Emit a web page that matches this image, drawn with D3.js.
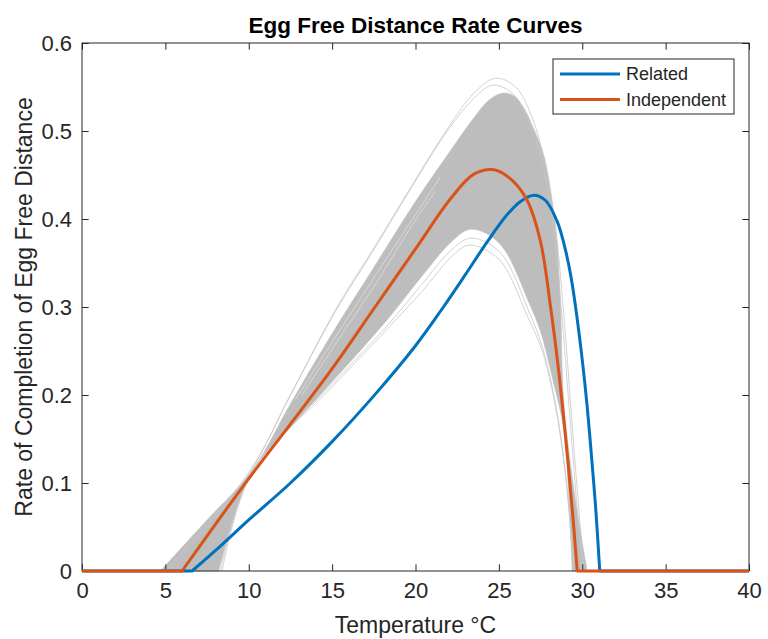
<!DOCTYPE html>
<html>
<head>
<meta charset="utf-8">
<script src="https://cdn.jsdelivr.net/npm/d3@7"></script>
<style>
  body { margin: 0; background: #fff; }
  text { font-family: "Liberation Sans", Arial, Helvetica, sans-serif; }
</style>
</head>
<body>
<script>
'use strict';

// ---- data ----
const xTicks = [0, 5, 10, 15, 20, 25, 30, 35, 40];
const yTicks = [0, 0.1, 0.2, 0.3, 0.4, 0.5, 0.6];

// Related (blue)
const relatedTemp = [0, 6.6, 8.4, 10, 12.5, 15, 17.5, 20, 21.6, 23, 24.3, 25.5, 26.3, 27.1, 27.8, 28.5, 28.9, 29.3, 29.6, 30.0, 30.3, 30.6, 30.8, 31.05, 40];
const relatedRate = [0, 0, 0.03, 0.058, 0.1, 0.147, 0.199, 0.256, 0.298, 0.337, 0.374, 0.405, 0.42, 0.427, 0.421, 0.397, 0.372, 0.337, 0.3, 0.24, 0.186, 0.12, 0.073, 0, 0];

// Independent (orange)
const indepTemp = [0, 6.0, 8, 10, 12.5, 15, 17.5, 20, 22.1, 23.5, 24.7, 25.8, 26.7, 27.5, 28.1, 28.6, 29.0, 29.4, 29.7, 40];
const indepRate = [0, 0, 0.053, 0.105, 0.167, 0.23, 0.298, 0.366, 0.423, 0.451, 0.456, 0.444, 0.421, 0.374, 0.3, 0.225, 0.152, 0.07, 0, 0];

// grey band of sampled curves: upper and lower edge of the dense part
const bandTopTemp = [4.7, 7.5, 10.2, 12.5, 15, 17.5, 20, 22, 23.5, 24.4, 25.2, 25.9, 26.5, 27.1, 27.7, 28.2, 28.5, 28.7, 28.9, 29.6, 30.3];
const bandTopRate = [0, 0.058, 0.114, 0.19, 0.27, 0.345, 0.42, 0.475, 0.515, 0.535, 0.543, 0.54, 0.526, 0.502, 0.472, 0.42, 0.37, 0.3, 0.19, 0.08, 0];
const bandLowTemp = [8.2, 10.2, 12.5, 15, 17, 18.5, 20.3, 22.1, 23.2, 24.2, 25.3, 26.8, 27.5, 28.2, 28.9, 29.2, 29.4];
const bandLowRate = [0, 0.114, 0.163, 0.215, 0.257, 0.29, 0.333, 0.373, 0.388, 0.384, 0.366, 0.305, 0.272, 0.22, 0.16, 0.08, 0];

// a few single curves that stand out of the band
const outlierTemps = [
  [5.2, 10, 12.5, 15.3, 17.6, 20.1, 22, 23.5, 24.8, 26, 27, 27.8, 28.4, 28.9, 29.5, 30.1],
  [5.0, 10, 12.5, 15.2, 17.4, 19.8, 21.8, 23.4, 24.6, 25.8, 26.9, 27.7, 28.3, 28.8, 29.4, 30.0],
  [8.3, 10.2, 15, 18.5, 20.3, 22.1, 23.2, 24.2, 25.3, 26.8, 27.6, 28.4, 29.0, 29.5],
  [8.4, 10.2, 15, 18.5, 20.4, 22.1, 23.1, 24.1, 25.2, 26.7, 27.6, 28.4, 29.0, 29.5]
];
const outlierRates = [
  [0, 0.11, 0.2, 0.3, 0.37, 0.448, 0.505, 0.543, 0.56, 0.55, 0.515, 0.46, 0.39, 0.29, 0.14, 0],
  [0, 0.112, 0.2, 0.295, 0.362, 0.437, 0.497, 0.535, 0.552, 0.543, 0.508, 0.455, 0.385, 0.285, 0.14, 0],
  [0, 0.113, 0.212, 0.283, 0.324, 0.364, 0.378, 0.374, 0.357, 0.295, 0.255, 0.19, 0.11, 0],
  [0, 0.112, 0.209, 0.279, 0.318, 0.356, 0.37, 0.366, 0.35, 0.29, 0.25, 0.186, 0.108, 0]
];

// thin white gaps just inside the upper edge of the band
const gapTemps = [
  [12.8, 15, 17.5, 20, 21.5],
  [13.2, 15.2, 17.6, 19.8, 21.2]
];
const gapRates = [
  [0.195, 0.26, 0.333, 0.405, 0.448],
  [0.2, 0.258, 0.326, 0.393, 0.432]
];

const seriesNames = ['Related', 'Independent'];
const seriesColors = ['#0072BD', '#D95319'];

(function() {

  const W = 768, H = 639;
  const margin = {top: 43, right: 19, bottom: 68, left: 82};
  const width = W - margin.left - margin.right,
        height = H - margin.top - margin.bottom;
  const axisColor = '#262626';
  const tickLen = 6.7;

  const svg = d3.select('body').append('svg')
    .attr('width', W)
    .attr('height', H);

  const x = d3.scaleLinear().domain([0, 40]).range([margin.left, margin.left + width]);
  const y = d3.scaleLinear().domain([0, 0.6]).range([margin.top + height, margin.top]);

  const zip = (xs, ys) => xs.map((v, i) => [v, ys[i]]);

  // smooth curve through the read points
  const line = d3.line()
    .x(d => x(d[0]))
    .y(d => y(d[1]))
    .curve(d3.curveCatmullRom.alpha(0.5));

  // flat zero parts drawn straight, the hump drawn smooth
  function seriesPath(pts) {
    const first = pts.findIndex(p => p[1] > 0) - 1;
    let last = first + 1;
    while (last < pts.length && pts[last][1] > 0) last++;
    const mid = pts.slice(first, last + 1);
    return 'M' + x(pts[0][0]) + ',' + y(pts[0][1]) +
      line(mid).replace(/^M/, 'L') +
      'L' + x(pts[pts.length - 1][0]) + ',' + y(pts[pts.length - 1][1]);
  }

  // grey band: top edge left->right, then bottom edge right->left
  const top = zip(bandTopTemp, bandTopRate);
  const low = zip(bandLowTemp, bandLowRate);
  const bandPath = line(top) + line(low.slice().reverse()).replace(/^M/, 'L') + 'Z';
  svg.append('path')
    .attr('d', bandPath)
    .attr('fill', '#bdbdbd')
    .attr('stroke', '#c2c2c2')
    .attr('stroke-width', 0.6);

  gapTemps.forEach((xs, i) => {
    svg.append('path')
      .datum(zip(xs, gapRates[i]))
      .attr('d', line)
      .attr('fill', 'none')
      .attr('stroke', '#e4e4e4')
      .attr('stroke-width', 0.7);
  });

  outlierTemps.forEach((xs, i) => {
    svg.append('path')
      .datum(zip(xs, outlierRates[i]))
      .attr('d', line)
      .attr('fill', 'none')
      .attr('stroke', '#c6c6c6')
      .attr('stroke-width', 0.8);
  });

  // axes: ticks inside on all four sides
  const fmtY = d => d === 0 ? '0' : d3.format('.1f')(d);
  const gx = svg.append('g')
    .attr('transform', 'translate(0,' + (margin.top + height) + ')')
    .call(d3.axisBottom(x).tickValues(xTicks).tickSizeInner(-tickLen).tickSizeOuter(0).tickPadding(11));
  const gxTop = svg.append('g')
    .attr('transform', 'translate(0,' + margin.top + ')')
    .call(d3.axisTop(x).tickValues(xTicks).tickSizeInner(-tickLen).tickSizeOuter(0).tickFormat(''));
  const gy = svg.append('g')
    .attr('transform', 'translate(' + margin.left + ',0)')
    .call(d3.axisLeft(y).tickValues(yTicks).tickFormat(fmtY).tickSizeInner(-tickLen).tickSizeOuter(0).tickPadding(10));
  const gyRight = svg.append('g')
    .attr('transform', 'translate(' + (margin.left + width) + ',0)')
    .call(d3.axisRight(y).tickValues(yTicks).tickSizeInner(-tickLen).tickSizeOuter(0).tickFormat(''));

  [gx, gxTop, gy, gyRight].forEach(g => {
    g.select('.domain').remove();
    g.selectAll('line').attr('stroke', axisColor);
    g.selectAll('text')
      .attr('fill', axisColor)
      .style('font-size', '22px')
      .style('font-family', '"Liberation Sans", Arial, sans-serif');
  });

  // box
  svg.append('rect')
    .attr('x', margin.left).attr('y', margin.top)
    .attr('width', width).attr('height', height)
    .attr('fill', 'none')
    .attr('stroke', axisColor)
    .attr('stroke-width', 1);

  // main curves
  [zip(relatedTemp, relatedRate), zip(indepTemp, indepRate)].forEach((pts, i) => {
    svg.append('path')
      .attr('d', seriesPath(pts))
      .attr('fill', 'none')
      .attr('stroke', seriesColors[i])
      .attr('stroke-width', 3)
      .attr('stroke-linejoin', 'round');
  });

  // title and axis labels
  svg.append('text')
    .attr('x', margin.left + width / 2)
    .attr('y', 33)
    .attr('text-anchor', 'middle')
    .style('font-size', '22.5px')
    .style('font-weight', 'bold')
    .attr('fill', '#000')
    .text('Egg Free Distance Rate Curves');

  svg.append('text')
    .attr('x', margin.left + width / 2)
    .attr('y', 633)
    .attr('text-anchor', 'middle')
    .style('font-size', '23px')
    .attr('fill', axisColor)
    .text('Temperature \u00B0C');

  svg.append('text')
    .attr('transform', 'translate(32,' + (margin.top + height / 2) + ')rotate(-90)')
    .attr('text-anchor', 'middle')
    .style('font-size', '23px')
    .attr('fill', axisColor)
    .text('Rate of Completion of Egg Free Distance');

  // legend
  const lg = svg.append('g').attr('transform', 'translate(553,59)');
  lg.append('rect')
    .attr('width', 181).attr('height', 55)
    .attr('fill', '#fff')
    .attr('stroke', axisColor)
    .attr('stroke-width', 1);
  seriesNames.forEach((name, i) => {
    const ly = 15 + i * 25.5;
    lg.append('line')
      .attr('x1', 7).attr('x2', 67)
      .attr('y1', ly).attr('y2', ly)
      .attr('stroke', seriesColors[i])
      .attr('stroke-width', 3);
    lg.append('text')
      .attr('x', 73).attr('y', ly)
      .attr('dy', '0.35em')
      .style('font-size', '18px')
      .attr('fill', axisColor)
      .text(name);
  });

})();
</script>
</body>
</html>
